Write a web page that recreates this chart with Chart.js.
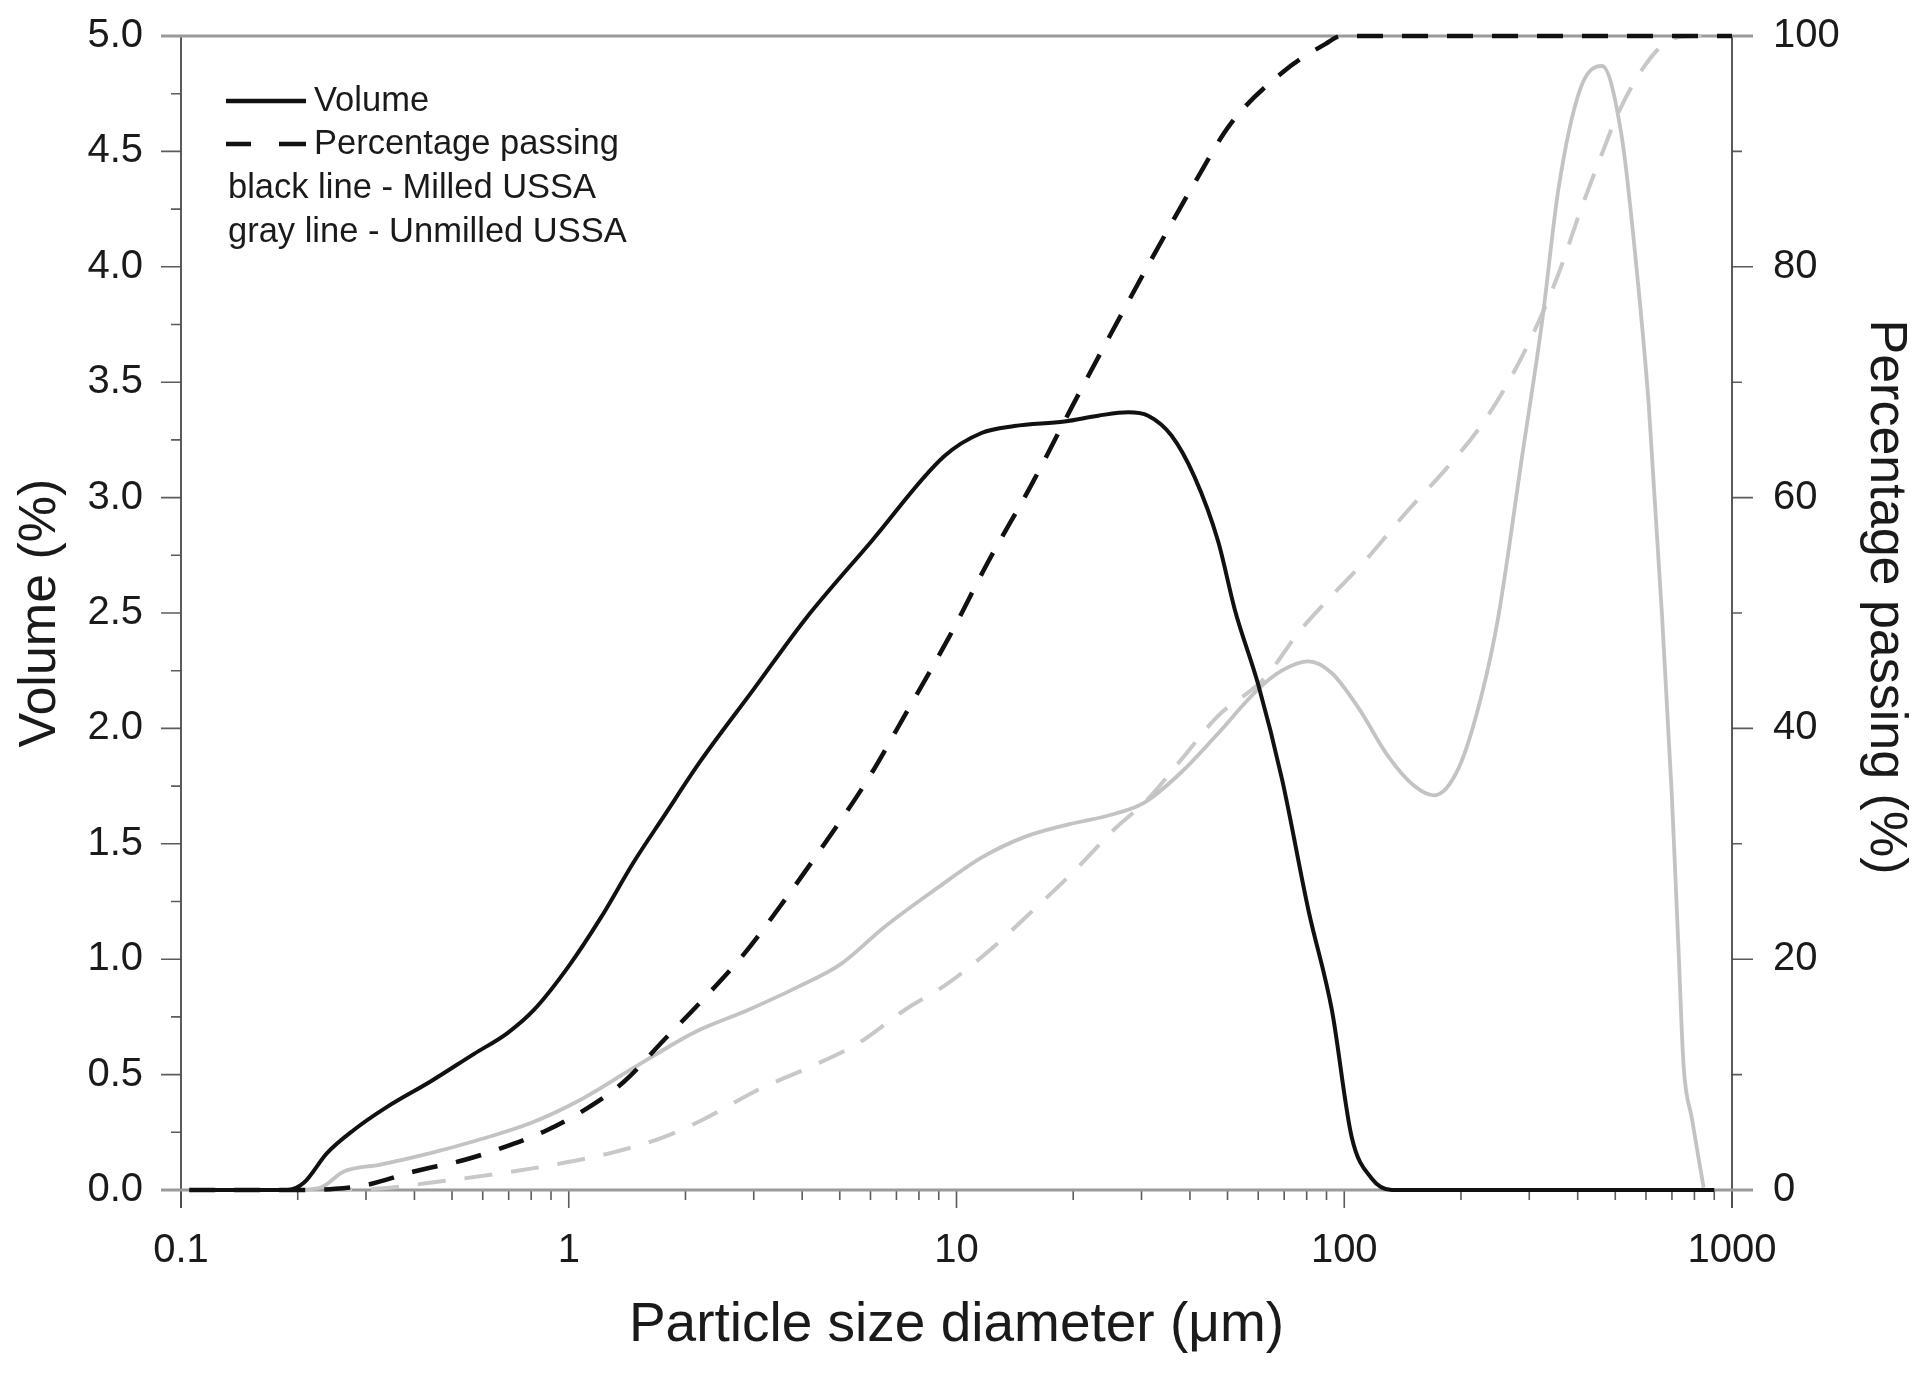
<!DOCTYPE html>
<html>
<head>
<meta charset="utf-8">
<script src="https://cdn.jsdelivr.net/npm/chart.js@4.4.1/dist/chart.umd.min.js"></script>
<style>
  html, body { margin: 0; padding: 0; background: #fff; }
  #wrap { width: 1923px; height: 1373px; }
</style>
</head>
<body>
<div id="wrap"><canvas id="psd"></canvas></div>
<script>
// particle size (um) and values
const milledVolSize = [0.12, 0.15, 0.188, 0.207, 0.238, 0.279, 0.34, 0.44, 0.57, 0.695, 0.813, 1.0, 1.21, 1.47, 1.76, 2.19, 3.0, 4.06, 6.03, 9.31, 11.6, 14.1, 19.0, 23.2, 27.7, 31.2, 35.8, 41.1, 47.3, 52.3, 60, 69.1, 80.9, 92.9, 104.5, 117.7, 132.7, 200, 400, 900];
const milledVol = [0, 0, 0, 0.03, 0.16, 0.26, 0.36, 0.47, 0.59, 0.68, 0.78, 0.97, 1.18, 1.42, 1.62, 1.86, 2.17, 2.47, 2.81, 3.18, 3.28, 3.31, 3.33, 3.355, 3.37, 3.355, 3.27, 3.09, 2.81, 2.51, 2.19, 1.78, 1.21, 0.78, 0.23, 0.05, 0, 0, 0, 0];

const milledPassSize = [0.105, 0.2, 0.25, 0.302, 0.399, 0.537, 0.667, 0.881, 1.117, 1.39, 1.76, 2.19, 2.84, 3.6, 4.61, 5.91, 7.49, 9.6, 12.05, 15.6, 19.8, 25.3, 32.5, 41.5, 50.7, 69, 89.3, 98.6, 200, 500, 1000];
const milledPass = [0, 0, 0.1, 0.45, 1.6, 2.6, 3.6, 5.2, 7.1, 9.4, 13.0, 16.3, 20.5, 25.1, 30.2, 35.6, 41.6, 48.0, 54.4, 61.1, 67.8, 74.5, 81.2, 87.5, 92.3, 96.8, 99.3, 100, 100, 100, 100];

const unmilledVolSize = [0.2, 0.229, 0.263, 0.327, 0.44, 0.593, 0.798, 1.07, 1.44, 1.94, 2.15, 2.9, 3.9, 5.04, 6.52, 8.95, 11.6, 15.0, 19.0, 25.6, 30.6, 38, 46.8, 60, 69, 80.8, 92.8, 108.7, 129.7, 151.7, 170.4, 197.5, 226.5, 250, 287, 323.6, 357, 406, 462, 520, 563, 610, 660, 700, 728, 750, 788, 845];
const unmilledVol = [0, 0.01, 0.08, 0.11, 0.16, 0.22, 0.29, 0.39, 0.52, 0.65, 0.69, 0.78, 0.88, 0.98, 1.14, 1.31, 1.44, 1.53, 1.58, 1.63, 1.68, 1.81, 1.97, 2.17, 2.25, 2.29, 2.24, 2.09, 1.88, 1.75, 1.71, 1.83, 2.15, 2.49, 3.17, 3.76, 4.34, 4.77, 4.87, 4.56, 4.05, 3.40, 2.49, 1.70, 1.04, 0.54, 0.31, 0.01];

const unmilledPassSize = [0.234, 0.327, 0.476, 0.667, 0.935, 1.28, 1.73, 2.19, 3.13, 4.22, 5.57, 7.35, 9.5, 12.3, 15.6, 20.2, 25.6, 31.2, 38, 47, 62.5, 76.2, 89.3, 113, 143.5, 182, 226, 270, 310, 357, 410, 462, 510, 592, 687, 800, 1000];
const unmilledPass = [0, 0.14, 0.78, 1.44, 2.25, 3.2, 4.5, 6.0, 8.8, 10.7, 12.7, 15.6, 17.9, 20.9, 24.1, 27.7, 31.3, 33.9, 37.3, 41.0, 44.4, 48.3, 50.9, 54.5, 58.6, 62.4, 66.3, 70.5, 74.5, 79.4, 85.2, 89.8, 93.4, 97.3, 99.6, 100, 100];

const xMajor = [0.1, 1, 10, 100, 1000];
const legendKeys = ['Volume', 'Percentage passing'];
const legendNotes = ['black line - Milled USSA', 'gray line - Unmilled USSA'];
const rightTitle = 'Percentage passing (%)';

const FONT = '"Liberation Sans", Arial, sans-serif';
const INK = '#1a1a1a';

function pts(xs, ys) {
  return xs.map((v, i) => ({ x: v, y: ys[i] }));
}

// axis frame with major/minor tick marks, legend and right title
const framePlugin = {
  id: 'frame',
  beforeDatasetsDraw(chart) {
    const { ctx, chartArea: a, scales } = chart;
    const { x, y, y2 } = scales;
    ctx.save();
    ctx.lineCap = 'butt';

    ctx.strokeStyle = '#5c5c5c';
    ctx.lineWidth = 1.6;
    ctx.beginPath();
    for (let i = 0; i <= 20; i++) {
      const py = y.getPixelForValue(i * 0.25);
      const len = i % 2 === 0 ? 20 : 10;
      ctx.moveTo(a.left - len, py);
      ctx.lineTo(a.left, py);
    }
    for (let i = 0; i <= 10; i++) {
      const py = y2.getPixelForValue(i * 10);
      const len = i % 2 === 0 ? 21 : 10;
      ctx.moveTo(a.right, py);
      ctx.lineTo(a.right + len, py);
    }
    for (let k = -1; k <= 3; k++) {
      for (let n = 1; n <= 9; n++) {
        const v = n * Math.pow(10, k);
        if (v > 1000.0001) break;
        const px = x.getPixelForValue(v);
        const len = n === 1 ? 18 : 10;
        ctx.moveTo(px, a.bottom);
        ctx.lineTo(px, a.bottom + len);
      }
    }
    ctx.stroke();

    // left and right axis lines
    ctx.strokeStyle = '#4a4a4a';
    ctx.lineWidth = 1.8;
    ctx.beginPath();
    ctx.moveTo(a.left, a.top);
    ctx.lineTo(a.left, a.bottom + 18);
    ctx.moveTo(a.right, a.top);
    ctx.lineTo(a.right, a.bottom + 18);
    ctx.stroke();

    // top and bottom lines
    ctx.strokeStyle = '#9a9a9a';
    ctx.lineWidth = 3;
    ctx.beginPath();
    ctx.moveTo(a.left - 20, a.top);
    ctx.lineTo(a.right + 21, a.top);
    ctx.moveTo(a.left - 20, a.bottom);
    ctx.lineTo(a.right + 21, a.bottom);
    ctx.stroke();
    ctx.restore();
  },
  afterDraw(chart) {
    const { ctx, chartArea: a, width } = chart;
    const x0 = a.left + 45, x1 = a.left + 125, tx = a.left + 133;
    const rows = [a.top + 65, a.top + 108, a.top + 152, a.top + 196];
    ctx.save();
    ctx.strokeStyle = '#111';
    ctx.lineWidth = 4.5;
    ctx.beginPath();
    ctx.moveTo(x0, rows[0]);
    ctx.lineTo(x1, rows[0]);
    ctx.moveTo(x0, rows[1]);
    ctx.lineTo(x0 + 25, rows[1]);
    ctx.moveTo(x1 - 27, rows[1]);
    ctx.lineTo(x1, rows[1]);
    ctx.stroke();

    ctx.fillStyle = INK;
    ctx.font = '34.5px ' + FONT;
    ctx.textBaseline = 'middle';
    ctx.textAlign = 'left';
    ctx.fillText(legendKeys[0], tx, rows[0]);
    ctx.fillText(legendKeys[1], tx, rows[1]);
    ctx.fillText(legendNotes[0], x0 + 2, rows[2]);
    ctx.fillText(legendNotes[1], x0 + 2, rows[3]);

    // right axis title, reads top to bottom
    ctx.translate(width - 38, (a.top + a.bottom) / 2 - 16);
    ctx.rotate(Math.PI / 2);
    ctx.textAlign = 'center';
    ctx.font = '52px ' + FONT;
    ctx.fillText(rightTitle, 0, 0);
    ctx.restore();
  }
};

new Chart(document.getElementById('psd'), {
  type: 'line',
  data: {
    datasets: [
      {
        label: 'Milled USSA - Volume',
        data: pts(milledVolSize, milledVol),
        yAxisID: 'y',
        borderColor: '#111',
        borderWidth: 4
      },
      {
        label: 'Milled USSA - Percentage passing',
        data: pts(milledPassSize, milledPass),
        yAxisID: 'y2',
        borderColor: '#111',
        borderWidth: 4.5,
        borderDash: [26, 19]
      },
      {
        label: 'Unmilled USSA - Volume',
        data: pts(unmilledVolSize, unmilledVol),
        yAxisID: 'y',
        borderColor: '#c3c3c3',
        borderWidth: 3.8
      },
      {
        label: 'Unmilled USSA - Percentage passing',
        data: pts(unmilledPassSize, unmilledPass),
        yAxisID: 'y2',
        borderColor: '#c8c8c8',
        borderWidth: 4,
        borderDash: [28, 19]
      }
    ]
  },
  options: {
    responsive: true,
    maintainAspectRatio: false,
    animation: false,
    events: [],
    layout: { autoPadding: false, padding: { top: 36, left: 0, right: 0, bottom: 0 } },
    elements: {
      point: { radius: 0 },
      line: { fill: false, cubicInterpolationMode: 'monotone', borderCapStyle: 'butt' }
    },
    datasets: { line: { clip: 6 } },
    plugins: {
      legend: { display: false },
      tooltip: { enabled: false }
    },
    scales: {
      x: {
        type: 'logarithmic',
        min: 0.1,
        max: 1000,
        border: { display: false },
        grid: { display: false, drawTicks: true, tickLength: 18 },
        ticks: {
          autoSkip: false,
          maxRotation: 0,
          padding: 19,
          color: INK,
          font: { family: FONT, size: 40 },
          callback: (v) => {
            const hit = xMajor.find(m => Math.abs(m - v) < m * 1e-6);
            return hit === undefined ? '' : String(hit);
          }
        },
        title: {
          display: true,
          text: 'Particle size diameter (μm)',
          color: INK,
          font: { family: FONT, size: 55 },
          padding: { top: 0, bottom: 14 }
        },
        afterFit: (s) => { s.height = 183; }
      },
      y: {
        position: 'left',
        min: 0,
        max: 5,
        border: { display: false },
        grid: { display: false, drawTicks: true, tickLength: 38 },
        ticks: {
          stepSize: 0.5,
          padding: 0,
          color: INK,
          font: { family: FONT, size: 40 },
          callback: (v) => Number(v).toFixed(1)
        },
        title: {
          display: true,
          text: 'Volume (%)',
          color: INK,
          font: { family: FONT, size: 52 },
          padding: { top: 9, bottom: 0 }
        },
        afterFit: (s) => { s.width = 181; }
      },
      y2: {
        position: 'right',
        min: 0,
        max: 100,
        border: { display: false },
        grid: { display: false, drawTicks: true, tickLength: 41 },
        ticks: {
          stepSize: 20,
          padding: 0,
          color: INK,
          font: { family: FONT, size: 40 }
        },
        title: { display: false },
        afterFit: (s) => { s.width = 191; }
      }
    }
  },
  plugins: [framePlugin]
});
</script>
</body>
</html>
